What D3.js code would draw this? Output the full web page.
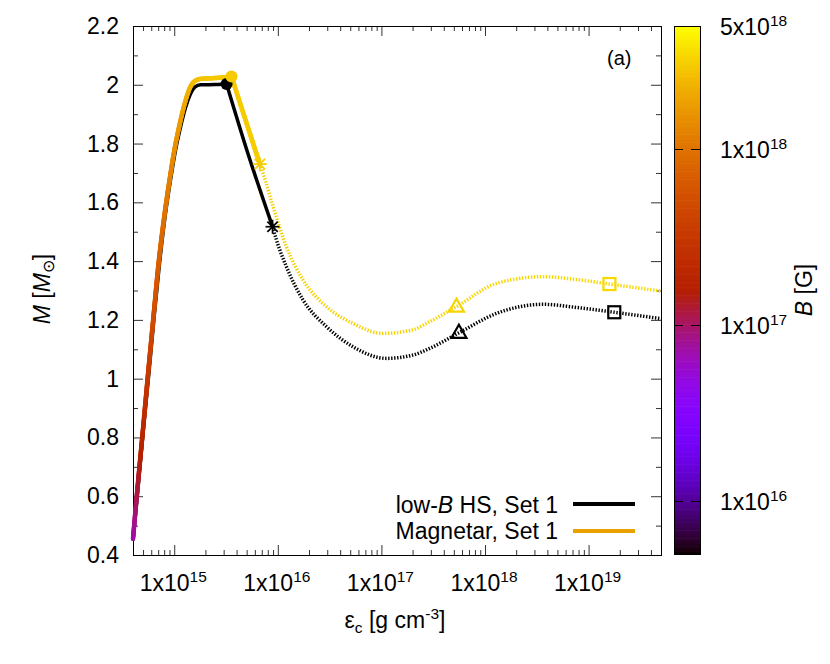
<!DOCTYPE html>
<html><head><meta charset="utf-8">
<script src="https://cdn.jsdelivr.net/npm/d3@7"></script>
<style>body{margin:0;background:#fff} text{font-family:"Liberation Sans",Arial,Helvetica,sans-serif;fill:#000}</style>
</head><body><svg id="c" width="830" height="664" xmlns="http://www.w3.org/2000/svg"></svg>
<script>
// ---------------- data ----------------
const xMajor = [1e15, 1e16, 1e17, 1e18, 1e19];
const xExp = ["15", "16", "17", "18", "19"];
const yMajor = [0.4, 0.6, 0.8, 1.0, 1.2, 1.4, 1.6, 1.8, 2.0, 2.2];
const yLabels = ["0.4", "0.6", "0.8", "1", "1.2", "1.4", "1.6", "1.8", "2", "2.2"];
const cbTicks = [5e18, 1e18, 1e17, 1e16];
const cbMant = ["5", "1", "1", "1"];
const cbExp = ["18", "18", "17", "16"];

// low-B hybrid star, Set 1 (black)
const lowStableE = [4.0e14, 4.45e14, 5.05e14, 5.7e14, 6.4e14, 7.15e14, 8.15e14, 9.2e14, 1.02e15, 1.14e15, 1.28e15, 1.42e15, 1.58e15, 1.8e15, 2.5e15, 3.2e15];
const lowStableM = [0.45, 0.62, 0.83, 1.02, 1.21, 1.38, 1.55, 1.675, 1.77, 1.85, 1.92, 1.965, 1.992, 2.0, 2.001, 2.003];
const lowDescE = [3.2e15, 5.0e15, 8.9e15];
const lowDescM = [2.003, 1.78, 1.517];
const lowUnstE = [8.9e15, 9.7e15, 1.21e16, 1.75e16, 2.95e16, 5.3e16, 1.12e17, 2.0e17, 2.92e17, 5.6e17, 1.29e18, 3.6e18, 8.2e18, 1.77e19, 5.0e19];
const lowUnstM = [1.517, 1.472, 1.381, 1.268, 1.177, 1.109, 1.069, 1.080, 1.103, 1.156, 1.222, 1.253, 1.241, 1.226, 1.204];

// Magnetar, Set 1 (coloured by B)
const magStableE = [4.0e14, 4.4e14, 5.0e14, 5.6e14, 6.3e14, 7.0e14, 8.0e14, 9.0e14, 1.0e15, 1.12e15, 1.26e15, 1.42e15, 1.6e15, 1.8e15, 2.5e15, 3.57e15];
const magStableM = [0.455, 0.62, 0.83, 1.02, 1.21, 1.38, 1.55, 1.675, 1.775, 1.86, 1.935, 1.99, 2.014, 2.02, 2.023, 2.028];
const magStableB = [7e16, 1.2e17, 2.0e17, 3.3e17, 5.0e17, 7e17, 9.5e17, 1.2e18, 1.45e18, 1.7e18, 2.0e18, 2.3e18, 2.6e18, 2.75e18, 2.9e18, 3.0e18];
const magDescE = [3.57e15, 6.7e15];
const magDescM = [2.028, 1.73];
const magDescB = [3.0e18, 3.1e18];
const magUnstE = [6.7e15, 7.2e15, 9.0e15, 1.21e16, 1.75e16, 2.95e16, 5.3e16, 1.04e17, 2.0e17, 2.92e17, 5.3e17, 1.29e18, 3.6e18, 8.2e18, 1.59e19, 5.0e19];
const magUnstM = [1.730, 1.699, 1.585, 1.449, 1.336, 1.245, 1.188, 1.154, 1.166, 1.194, 1.245, 1.324, 1.347, 1.336, 1.322, 1.298];
const magUnstB = [3.1e18, 3.1e18, 3.12e18, 3.15e18, 3.18e18, 3.2e18, 3.22e18, 3.25e18, 3.27e18, 3.3e18, 3.32e18, 3.35e18, 3.4e18, 3.42e18, 3.45e18, 3.5e18];

// special points
const lowMarkE = [3.2e15, 8.9e15, 5.6e17, 1.77e19];
const lowMarkM = [2.003, 1.517, 1.156, 1.226];
const magMarkE = [3.57e15, 6.7e15, 5.3e17, 1.59e19];
const magMarkM = [2.028, 1.73, 1.245, 1.322];
const markTypes = ["circle", "star", "triangle", "square"];

const legendLabels = ["low-", "Magnetar, Set 1"];

// ---------------- layout ----------------
const svg = d3.select("#c");
const L = 133, R = 661, T = 26, B = 555;
const x = d3.scaleLog().domain([4e14, 5e19]).range([L, R]);
const y = d3.scaleLinear().domain([0.4, 2.2]).range([B, T]);
const cb = d3.scaleLog().domain([5e15, 5e18]).range([554, 26]);
const CBX0 = 674, CBX1 = 701;

function pal(t) {
  t = Math.max(0, Math.min(1, t));
  const r = Math.sqrt(t), g = t * t * t, b = Math.max(0, Math.sin(2 * Math.PI * t));
  return d3.rgb(r * 255, g * 255, b * 255).formatHex();
}
const bColor = Bv => pal((Math.log10(Bv) - Math.log10(5e15)) / 3);

// ---------------- axes ticks ----------------
const xMinor = [];
for (let d = 14; d <= 19; d++) for (let k = 2; k <= 9; k++) { const v = k * Math.pow(10, d); if (v > 4e14 && v < 5e19) xMinor.push(v); }
const yMinor = d3.range(0.5, 2.2, 0.2);

function clean(g) { g.select(".domain").remove(); g.selectAll(".tick line").attr("stroke", "#333"); }
svg.append("g").attr("transform", `translate(0,${B})`).call(d3.axisBottom(x).tickValues(xMajor).tickSize(-10).tickFormat("")).call(clean);
svg.append("g").attr("transform", `translate(0,${B})`).call(d3.axisBottom(x).tickValues(xMinor).tickSize(-5).tickFormat("")).call(clean);
svg.append("g").attr("transform", `translate(0,${T})`).call(d3.axisTop(x).tickValues(xMajor).tickSize(-10).tickFormat("")).call(clean);
svg.append("g").attr("transform", `translate(0,${T})`).call(d3.axisTop(x).tickValues(xMinor).tickSize(-5).tickFormat("")).call(clean);
svg.append("g").attr("transform", `translate(${L},0)`).call(d3.axisLeft(y).tickValues(yMajor).tickSize(-10).tickFormat("")).call(clean);
svg.append("g").attr("transform", `translate(${L},0)`).call(d3.axisLeft(y).tickValues(yMinor).tickSize(-5).tickFormat("")).call(clean);
svg.append("g").attr("transform", `translate(${R},0)`).call(d3.axisRight(y).tickValues(yMajor).tickSize(-10).tickFormat("")).call(clean);
svg.append("g").attr("transform", `translate(${R},0)`).call(d3.axisRight(y).tickValues(yMinor).tickSize(-5).tickFormat("")).call(clean);

svg.append("rect").attr("x", L + 0.5).attr("y", T + 0.5).attr("width", R - L).attr("height", B - T)
  .attr("fill", "none").attr("stroke", "#000").attr("stroke-width", 1);

// tick labels
const FS = 23, SUP = 15.5;
xMajor.forEach((v, i) => {
  const t = svg.append("text").attr("x", x(v) - 1).attr("y", 591).attr("text-anchor", "middle").attr("font-size", FS);
  t.append("tspan").text("1x10");
  t.append("tspan").attr("dy", -9).attr("font-size", SUP).text(xExp[i]);
});
yMajor.forEach((v, i) => {
  svg.append("text").attr("x", 119).attr("y", y(v) + 8).attr("text-anchor", "end").attr("font-size", FS).text(yLabels[i]);
});

// axis titles
{
  const t = svg.append("text").attr("x", 395).attr("y", 628).attr("text-anchor", "middle").attr("font-size", FS);
  t.append("tspan").text("ε");
  t.append("tspan").attr("dy", 5).attr("font-size", SUP).text("c");
  t.append("tspan").attr("dy", -5).text(" [g cm");
  t.append("tspan").attr("dy", -9).attr("font-size", SUP).text("-3");
  t.append("tspan").attr("dy", 9).text("]");
}
{
  const t = svg.append("text").attr("transform", "translate(50,289) rotate(-90)").attr("text-anchor", "middle").attr("font-size", FS);
  t.append("tspan").attr("font-style", "italic").text("M");
  t.append("tspan").text(" [");
  t.append("tspan").attr("font-style", "italic").text("M");
  t.append("tspan").attr("dy", 4).attr("font-size", SUP).text("⊙");
  t.append("tspan").attr("dy", -4).text("]");
}
svg.append("text").attr("x", 607).attr("y", 65).attr("font-size", 20).text("(a)");

// ---------------- curves ----------------
const lineM = d3.line().x(d => x(d[0])).y(d => y(d[1])).curve(d3.curveMonotoneX);
const zip = (a, b) => a.map((v, i) => [v, b[i]]);
const plot = svg.append("g");

// black
plot.append("path").attr("d", lineM(zip(lowStableE, lowStableM))).attr("fill", "none").attr("stroke", "#000").attr("stroke-width", 3.5).attr("stroke-linejoin", "round");
plot.append("path").attr("d", lineM(zip(lowDescE, lowDescM))).attr("fill", "none").attr("stroke", "#000").attr("stroke-width", 3.5).attr("stroke-linecap", "round");
plot.append("path").attr("d", lineM(zip(lowUnstE, lowUnstM))).attr("fill", "none").attr("stroke", "#000").attr("stroke-width", 3.5).attr("stroke-dasharray", "1.4,1.6");

// magnetar unstable: gradient along x
const defs = svg.append("defs");
const grad = defs.append("linearGradient").attr("id", "gU").attr("gradientUnits", "userSpaceOnUse")
  .attr("x1", x(magUnstE[0])).attr("x2", x(magUnstE[magUnstE.length - 1])).attr("y1", 0).attr("y2", 0);
magUnstE.forEach((e, i) => {
  grad.append("stop").attr("offset", (x(e) - x(magUnstE[0])) / (x(magUnstE[magUnstE.length - 1]) - x(magUnstE[0])))
    .attr("stop-color", bColor(magUnstB[i]));
});
plot.append("path").attr("d", lineM(zip(magUnstE, magUnstM))).attr("fill", "none").attr("stroke", "url(#gU)").attr("stroke-width", 3.5).attr("stroke-dasharray", "1.4,1.6");

// magnetar stable: coloured segments
const bOf = d3.scaleLog().domain(magStableE.concat(magDescE.slice(1))).range(magStableB.concat(magDescB.slice(1)).map(Math.log10)).clamp(true);
function colourPath(dStr) {
  const p = plot.append("path").attr("d", dStr).attr("fill", "none").attr("stroke", "none");
  const node = p.node(), len = node.getTotalLength();
  const step = 1.2;
  let prev = node.getPointAtLength(0);
  for (let s = step; s <= len + step; s += step) {
    const cur = node.getPointAtLength(Math.min(s, len));
    const mx = (prev.x + cur.x) / 2;
    const Bv = Math.pow(10, bOf(x.invert(mx)));
    plot.append("line").attr("x1", prev.x).attr("y1", prev.y).attr("x2", cur.x).attr("y2", cur.y)
      .attr("stroke", bColor(Bv)).attr("stroke-width", 4.5).attr("stroke-linecap", "round");
    prev = cur;
    if (s >= len) break;
  }
  p.remove();
}
colourPath(lineM(zip(magStableE, magStableM)));
colourPath(lineM(zip(magDescE, magDescM)));

// ---------------- markers ----------------
function marker(type, cx, cy, col) {
  const g = plot.append("g").attr("transform", `translate(${cx},${cy})`);
  if (type === "circle") g.append("circle").attr("r", 6).attr("fill", col);
  else if (type === "star") {
    [[-7, 0, 7, 0], [0, -7, 0, 7], [-5.2, -5.2, 5.2, 5.2], [-5.2, 5.2, 5.2, -5.2]].forEach(a =>
      g.append("line").attr("x1", a[0]).attr("y1", a[1]).attr("x2", a[2]).attr("y2", a[3]).attr("stroke", col).attr("stroke-width", 1.7));
  } else if (type === "triangle") {
    g.append("path").attr("d", "M0,-8 L7.5,5 L-7.5,5 Z").attr("fill", "none").attr("stroke", col).attr("stroke-width", 2.2);
  } else if (type === "square") {
    g.append("rect").attr("x", -6).attr("y", -6).attr("width", 12).attr("height", 12).attr("fill", "none").attr("stroke", col).attr("stroke-width", 2.2);
  }
}
const bAll = d3.scaleLog().domain(magStableE.concat(magUnstE.slice(1))).range(magStableB.concat(magUnstB.slice(1)).map(Math.log10));
lowMarkE.forEach((e, i) => marker(markTypes[i], x(e), y(lowMarkM[i]), "#000"));
magMarkE.forEach((e, i) => marker(markTypes[i], x(e), y(magMarkM[i]), bColor(Math.pow(10, bAll(e)))));

// ---------------- legend ----------------
{
  const t = svg.append("text").attr("x", 558).attr("y", 513).attr("text-anchor", "end").attr("font-size", FS);
  t.append("tspan").text(legendLabels[0]);
  t.append("tspan").attr("font-style", "italic").text("B");
  t.append("tspan").text(" HS, Set 1");
  svg.append("line").attr("x1", 573).attr("x2", 635).attr("y1", 504).attr("y2", 504).attr("stroke", "#000").attr("stroke-width", 4);
  svg.append("text").attr("x", 558).attr("y", 539).attr("text-anchor", "end").attr("font-size", FS).text(legendLabels[1]);
  svg.append("line").attr("x1", 573).attr("x2", 635).attr("y1", 531).attr("y2", 531).attr("stroke", "#e9a100").attr("stroke-width", 4);
}

// ---------------- colour bar ----------------
const nBands = 200;
const lo = Math.log10(5e15), hi = Math.log10(5e18);
for (let i = 0; i < nBands; i++) {
  const v0 = Math.pow(10, lo + (hi - lo) * i / nBands), v1 = Math.pow(10, lo + (hi - lo) * (i + 1) / nBands);
  svg.append("rect").attr("x", CBX0).attr("width", CBX1 - CBX0).attr("y", cb(v1)).attr("height", cb(v0) - cb(v1) + 0.6)
    .attr("fill", pal((i + 0.5) / nBands));
}
svg.append("rect").attr("x", CBX0 + 0.5).attr("y", 26.5).attr("width", CBX1 - CBX0 - 1).attr("height", 528)
  .attr("fill", "none").attr("stroke", "#000").attr("stroke-width", 1);
cbTicks.forEach((v, i) => {
  const yy = Math.round(cb(v)) + 0.5;
  if (v < 5e18) {
    svg.append("line").attr("x1", CBX0).attr("x2", CBX0 + 9).attr("y1", yy).attr("y2", yy).attr("stroke", "#000").attr("stroke-width", 1);
    svg.append("line").attr("x1", CBX1 - 10).attr("x2", CBX1).attr("y1", yy).attr("y2", yy).attr("stroke", "#000").attr("stroke-width", 1);
  }
  const t = svg.append("text").attr("x", 720).attr("y", cb(v) + 9).attr("font-size", FS);
  t.append("tspan").text(cbMant[i] + "x10");
  t.append("tspan").attr("dy", -9).attr("font-size", SUP).text(cbExp[i]);
});
{
  const t = svg.append("text").attr("transform", "translate(812,290) rotate(-90)").attr("text-anchor", "middle").attr("font-size", FS);
  t.append("tspan").attr("font-style", "italic").text("B");
  t.append("tspan").text(" [G]");
}
</script>
</body></html>
